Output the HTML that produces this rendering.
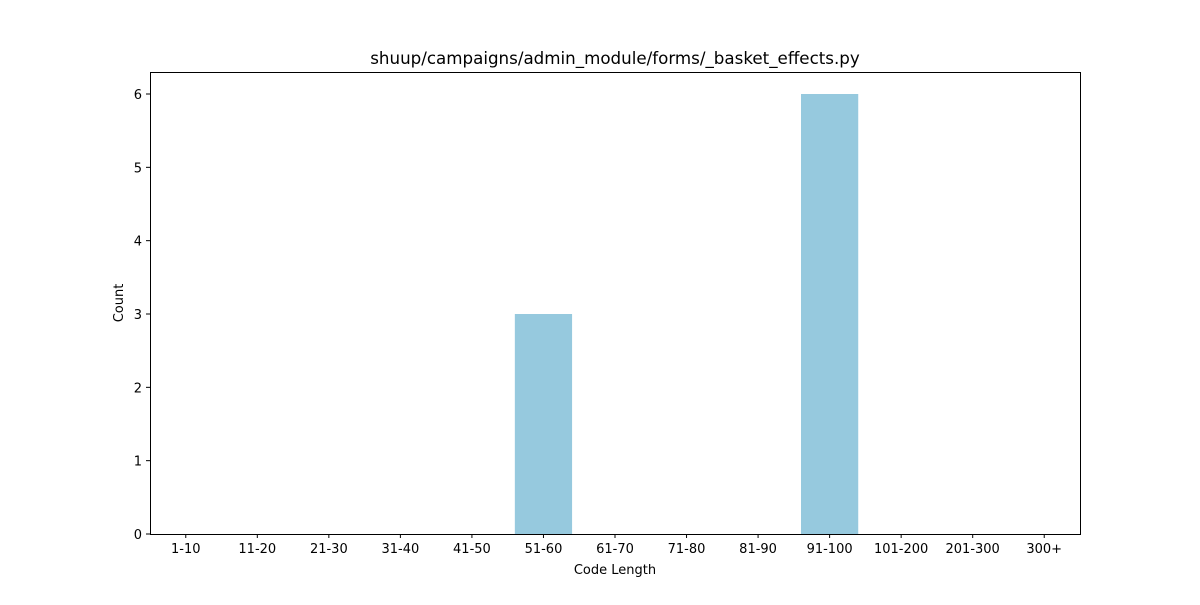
<!DOCTYPE html>
<html><head><meta charset="utf-8"><style>
body{margin:0;background:#fff;}
svg text{font-family:"DejaVu Sans","Liberation Sans",sans-serif;font-size:13px;fill:#000;}
</style></head><body>
<svg id="chart" width="1200" height="600" xmlns="http://www.w3.org/2000/svg">
<rect width="1200" height="600" fill="#fff"/>
<text x="615" y="64" text-anchor="middle" style="font-size:16.7px">shuup/campaigns/admin_module/forms/_basket_effects.py</text>
<g id="bars"></g>
<g id="xticks"></g>
<g id="yticks"></g>
<rect x="150.5" y="72.5" width="930" height="462" fill="none" stroke="#000" stroke-width="1"/>
<text x="615" y="574" text-anchor="middle">Code Length</text>
<text transform="translate(123,303) rotate(-90)" text-anchor="middle">Count</text>
</svg>
<script>
const categories=["1-10","11-20","21-30","31-40","41-50","51-60","61-70","71-80","81-90","91-100","101-200","201-300","300+"];
const counts=[0,0,0,0,0,3,0,0,0,6,0,0,0];
const yTicks=[0,1,2,3,4,5,6];
const L=150,R=1080,T=72,B=534,yMax=6.3;
const NS="http://www.w3.org/2000/svg";
const bw=(R-L)/categories.length;
const xs=i=>L+(i+0.5)*bw;
const ys=v=>B-(v/yMax)*(B-T);
const bars=document.getElementById('bars'),xt=document.getElementById('xticks'),yt=document.getElementById('yticks');
categories.forEach((c,i)=>{
 const r=document.createElementNS(NS,'rect');
 r.setAttribute('x',xs(i)-bw*0.4);r.setAttribute('width',bw*0.8);
 r.setAttribute('y',ys(counts[i]));r.setAttribute('height',B-ys(counts[i]));
 r.setAttribute('fill','#96c9de');
 
 
 bars.appendChild(r);
 const l=document.createElementNS(NS,'line');
 l.setAttribute('x1',xs(i));l.setAttribute('x2',xs(i));l.setAttribute('y1',B);l.setAttribute('y2',B+4);l.setAttribute('stroke','#000');
 
 
 xt.appendChild(l);
 const t=document.createElementNS(NS,'text');
 t.setAttribute('x',xs(i));t.setAttribute('y',B+19);t.setAttribute('text-anchor','middle');t.textContent=c;
 
 
 xt.appendChild(t);
});
yTicks.forEach(v=>{
 const l=document.createElementNS(NS,'line');
 l.setAttribute('x1',L-4);l.setAttribute('x2',L);l.setAttribute('y1',ys(v));l.setAttribute('y2',ys(v));l.setAttribute('stroke','#000');
 
 
 yt.appendChild(l);
 const t=document.createElementNS(NS,'text');
 t.setAttribute('x',L-8);t.setAttribute('y',ys(v)+5);t.setAttribute('text-anchor','end');t.textContent=v;
 
 
 yt.appendChild(t);
});
</script>
</body></html>
